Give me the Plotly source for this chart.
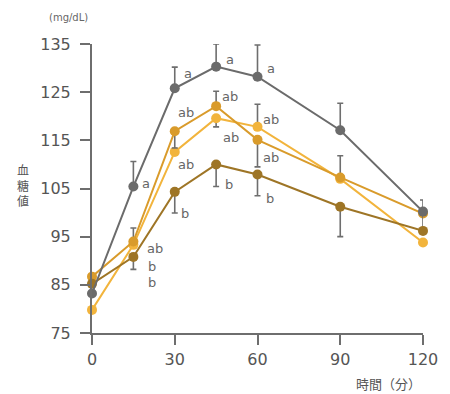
import plotly.graph_objects as go

minutes = [0, 15, 30, 45, 60, 90, 120]

gray_vals = [83.2, 105.4, 125.8, 130.3, 128.2, 117.1, 100.2]
gray_plus = [0, 5.2, 4.4, 4.7, 6.6, 5.6, 2.4]
gray_minus = [0, 0, 0, 0, 0, 0, 0]

mid_vals = [86.7, 94.0, 116.9, 122.1, 115.1, 107.3, 99.8]
mid_plus = [0, 2.8, 0, 3.1, 0, 4.5, 0]
mid_minus = [0, 0, 3.5, 0, 5.6, 0, 0]

light_vals = [79.8, 93.3, 112.6, 119.6, 117.8, 107.0, 93.8]
light_plus = [0, 0, 0, 0, 4.7, 0, 0]
light_minus = [0, 0, 0, 1.8, 0, 0, 0]

dark_vals = [85.2, 90.8, 104.3, 110.0, 107.9, 101.2, 96.2]
dark_plus = [0, 0, 0, 0, 0, 0, 3.5]
dark_minus = [0, 2.6, 4.4, 4.6, 4.4, 6.2, 0]

y_ticks = [75, 85, 95, 105, 115, 125, 135]
x_ticks = [0, 30, 60, 90, 120]

label_texts = ["a", "ab", "b", "b",
               "a", "ab", "ab", "b",
               "a", "ab", "ab", "b",
               "a", "ab", "ab", "b"]
label_x = [19.5, 23.0, 21.8, 21.8,
           34.7, 34.1, 34.1, 33.7,
           50.1, 50.1, 50.3, 49.7,
           64.9, 64.8, 64.8, 64.6]
label_y = [106.1, 92.6, 88.9, 85.4,
           128.8, 120.7, 109.9, 99.9,
           131.7, 124.1, 115.6, 105.9,
           130.0, 119.4, 111.5, 103.0]

series = [
    ("light", light_vals, light_plus, light_minus, "#f2b43c"),
    ("mid", mid_vals, mid_plus, mid_minus, "#d99b2b"),
    ("dark", dark_vals, dark_plus, dark_minus, "#9e7526"),
    ("gray", gray_vals, gray_plus, gray_minus, "#6b6b6b"),
]

fig = go.Figure()
for name, vals, plus, minus, color in series:
    fig.add_trace(go.Scatter(
        x=minutes, y=vals, name=name, mode="lines+markers",
        line=dict(color=color, width=2),
        marker=dict(color=color, size=10),
        error_y=dict(type="data", symmetric=False, array=plus, arrayminus=minus,
                     color="#6e6e6e", thickness=1.6, width=3),
        cliponaxis=False, showlegend=False, hoverinfo="skip",
    ))

for t, xv, yv in zip(label_texts, label_x, label_y):
    fig.add_annotation(x=xv, y=yv, text=t, showarrow=False,
                       xanchor="center", yanchor="middle",
                       font=dict(size=13, color="#666666", family="DejaVu Sans"))

cjk = "Noto Sans CJK JP"
fig.add_annotation(xref="paper", yref="paper", x=-0.208, y=0.512,
                   xanchor="center", yanchor="middle",
                   text="血<br>糖<br>値", showarrow=False,
                   font=dict(size=12, color="#555555", family=cjk))
fig.add_annotation(xref="paper", yref="paper", x=-0.071, y=1.093,
                   xanchor="center", yanchor="middle",
                   text="(mg/dL)", showarrow=False,
                   font=dict(size=10, color="#666666", family="DejaVu Sans"))
fig.add_annotation(xref="paper", yref="paper", x=0.895, y=-0.176,
                   xanchor="center", yanchor="middle",
                   text="時間（分）", showarrow=False,
                   font=dict(size=13, color="#555555", family=cjk))

axis_common = dict(showgrid=False, zeroline=False, showline=True,
                   linecolor="#6e6e6e", linewidth=2, ticks="outside",
                   ticklen=10, tickwidth=2, tickcolor="#6e6e6e",
                   tickfont=dict(size=16, color="#555555", family="DejaVu Sans"))

fig.update_xaxes(range=[0, 120], tickvals=x_ticks, ticklabelstandoff=1, **axis_common)
fig.update_yaxes(range=[75, 135], tickvals=y_ticks, ticklabelstandoff=6, **axis_common)

fig.update_layout(
    width=450, height=394,
    margin=dict(l=92, r=17, t=44, b=61),
    plot_bgcolor="white", paper_bgcolor="white",
)

fig.write_html("out.html", config={"displayModeBar": False},
               post_script="document.body.style.margin='0';")
